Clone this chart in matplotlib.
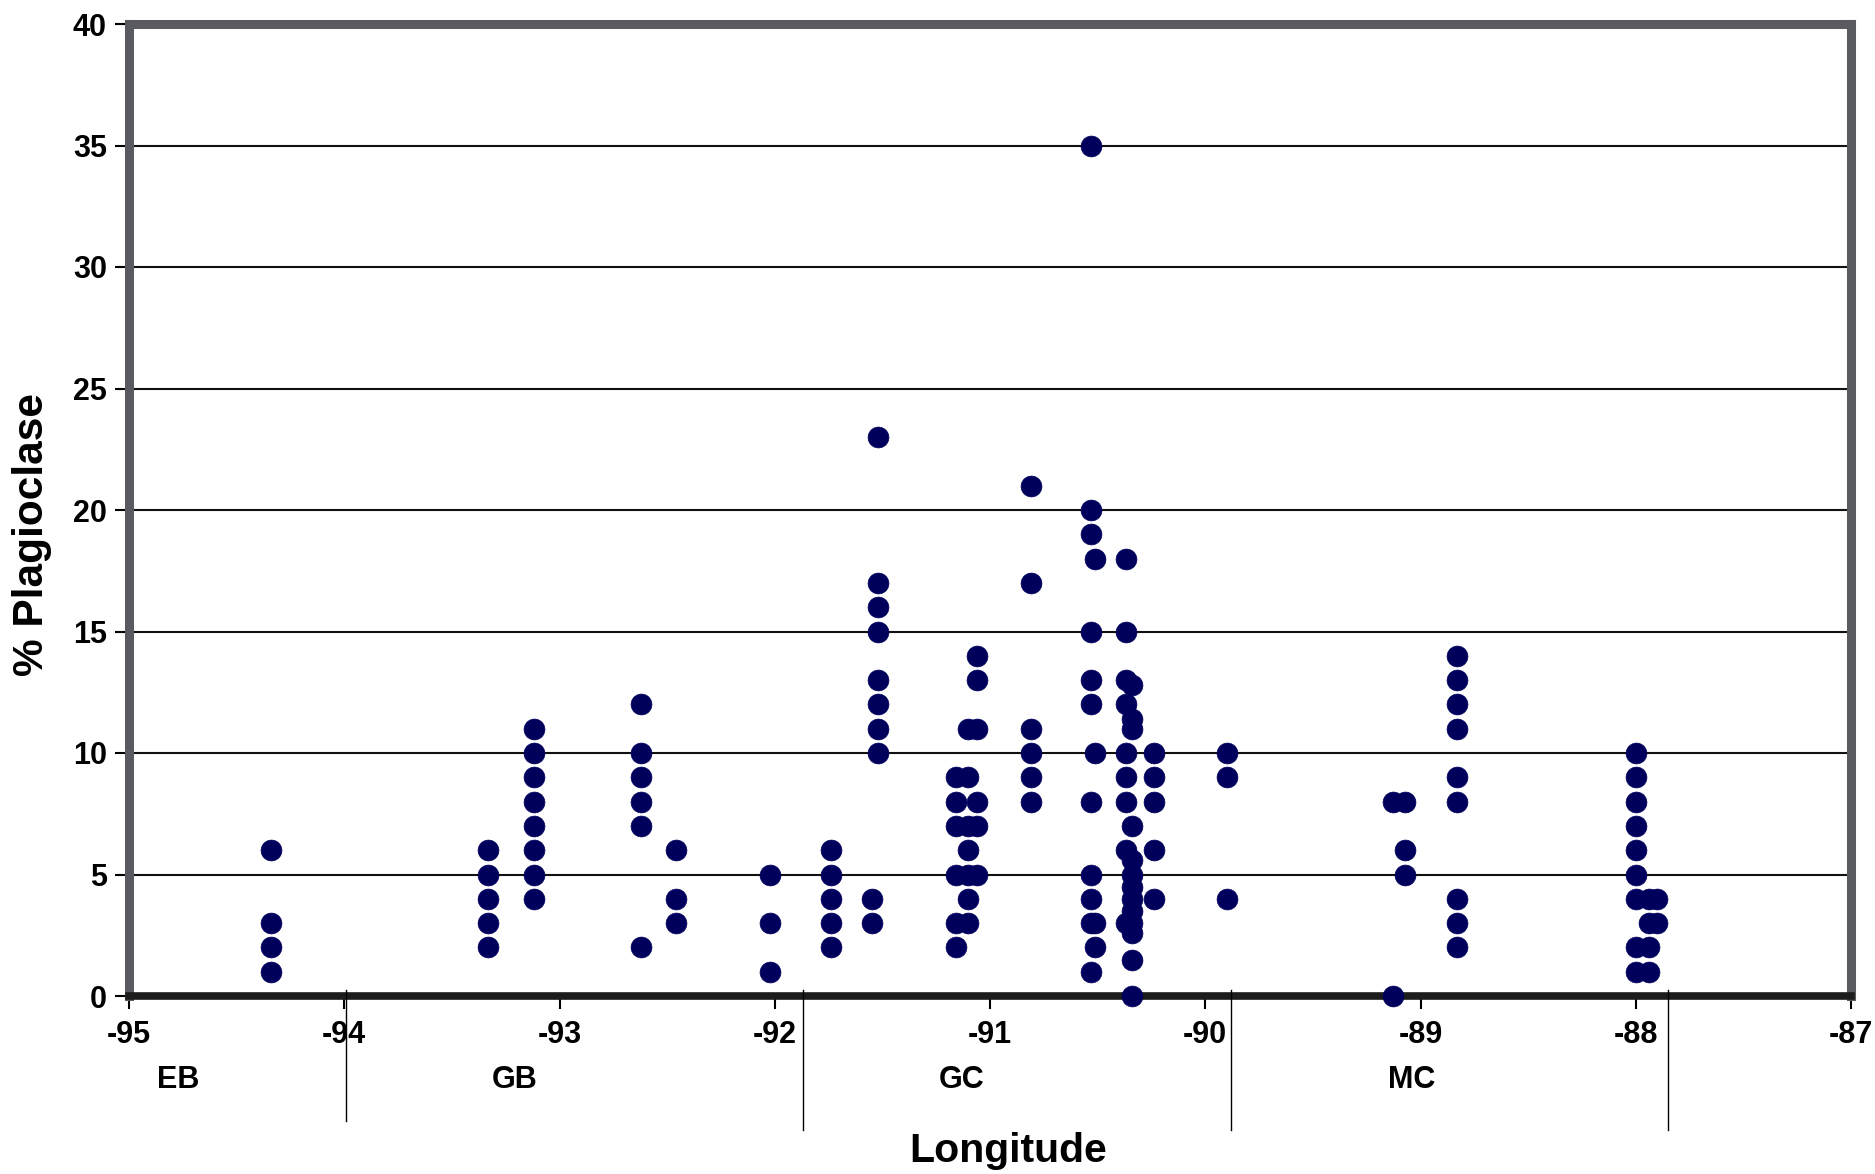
import matplotlib
matplotlib.use("Agg")
import matplotlib.pyplot as plt
import matplotlib.transforms as mtransforms

plt.rcParams['font.family'] = ['Liberation Sans', 'DejaVu Sans']
plt.rcParams['font.weight'] = 'bold'

# ---------------- data ----------------
column_lon = [
    -94.34,
    -93.33, -93.12, -92.62, -92.46, -92.02,
    -91.74, -91.55, -91.52, -91.16, -91.10, -91.06,
    -90.81, -90.53, -90.51, -90.37, -90.34, -90.24, -89.90,
    -89.13, -89.07, -88.83, -88.00, -87.94, -87.90,
]
column_pct = [
    [6, 3, 2, 1],
    [6, 5, 4, 3, 2],
    [11, 10, 9, 8, 7, 6, 5, 4],
    [12, 10, 9, 8, 7, 2],
    [6, 4, 3],
    [5, 3, 1],
    [6, 5, 4, 3, 2],
    [4, 3],
    [23, 17, 16, 15, 13, 12, 11, 10],
    [9, 8, 7, 5, 3, 2],
    [11, 9, 7, 6, 5, 4, 3],
    [14, 13, 11, 8, 7, 5],
    [21, 17, 11, 10, 9, 8],
    [35, 20, 19, 15, 13, 12, 8, 5, 4, 3, 1],
    [18, 10, 3, 2],
    [18, 15, 13, 12, 10, 9, 8, 6, 3],
    [12.8, 11.4, 11.0, 7, 5.6, 5.0, 4.5, 4.0, 3.5, 3.0, 2.6, 1.5, 0],
    [10, 9, 8, 6, 4],
    [10, 9, 4],
    [8, 0],
    [8, 6, 5],
    [14, 13, 12, 11, 9, 8, 4, 3, 2],
    [10, 9, 8, 7, 6, 5, 4, 2, 1],
    [4, 3, 2, 1],
    [4, 3],
]
regions = ['EB', 'GB', 'GC', 'MC']
region_label_lon = [-94.77, -93.21, -91.13, -89.04]
region_bounds = [-93.99, -91.87, -89.88, -87.85]
x_ticks = [-95, -94, -93, -92, -91, -90, -89, -88, -87]
y_ticks = [0, 5, 10, 15, 20, 25, 30, 35, 40]

lon = []
pct = []
for lo, vals in zip(column_lon, column_pct):
    for v in vals:
        lon.append(lo)
        pct.append(v)

# ---------------- figure ----------------
W, H = 1875, 1174
fig = plt.figure(figsize=(W / 100, H / 100), dpi=100)
ax = fig.add_axes([129 / W, (H - 996) / H, (1851 - 129) / W, (996 - 24) / H])

ax.set_xlim(-95, -87)
ax.set_ylim(0, 40)
ax.set_xticks(x_ticks)
ax.set_yticks(y_ticks)
ax.set_xticklabels([str(t) for t in x_ticks])
ax.set_yticklabels([str(t) for t in y_ticks])

for y in y_ticks[1:-1]:
    ax.axhline(y, color='#111111', lw=1.5, zorder=1)

ax.plot(lon, pct, linestyle='none', marker='o', markersize=15,
        markerfacecolor='#00005c', markeredgecolor='#00005c',
        markeredgewidth=0.5, zorder=3, clip_on=False)

gray = '#5a5a61'
for side in ['left', 'top', 'right']:
    ax.spines[side].set_color(gray)
    ax.spines[side].set_linewidth(6.5)
ax.spines['bottom'].set_color('#1c1c1c')
ax.spines['bottom'].set_linewidth(5.5)
for sp in ax.spines.values():
    sp.set_zorder(2)

ax.tick_params(axis='both', direction='out', color='black', width=1.5,
               labelsize=22)
ax.tick_params(axis='y', length=10, pad=6)
ax.tick_params(axis='x', length=9, pad=8)
for lab in ax.get_xticklabels() + ax.get_yticklabels():
    lab.set_fontweight('bold')

trans = mtransforms.blended_transform_factory(ax.transData, ax.transAxes)
for i, b in enumerate(region_bounds):
    bottom = -0.129 if i == 0 else -0.138
    ax.plot([b, b], [0.006, bottom], color='black', lw=1.0,
            transform=trans, clip_on=False, zorder=4)

for name, lo in zip(regions, region_label_lon):
    ax.text(lo, -(1080 - 996) / 972, name, transform=trans,
            ha='center', va='center', fontsize=22, fontweight='bold')

fig.text(1008 / W, 1 - 1162 / H, 'Longitude', ha='center', va='baseline',
         fontsize=29.5, fontweight='bold')
fig.text(32 / W, 1 - 535 / H, '% Plagioclase', ha='center', va='center',
         rotation=90, fontsize=30.5, fontweight='bold')

fig.savefig('out.png', dpi=100, facecolor='white')
